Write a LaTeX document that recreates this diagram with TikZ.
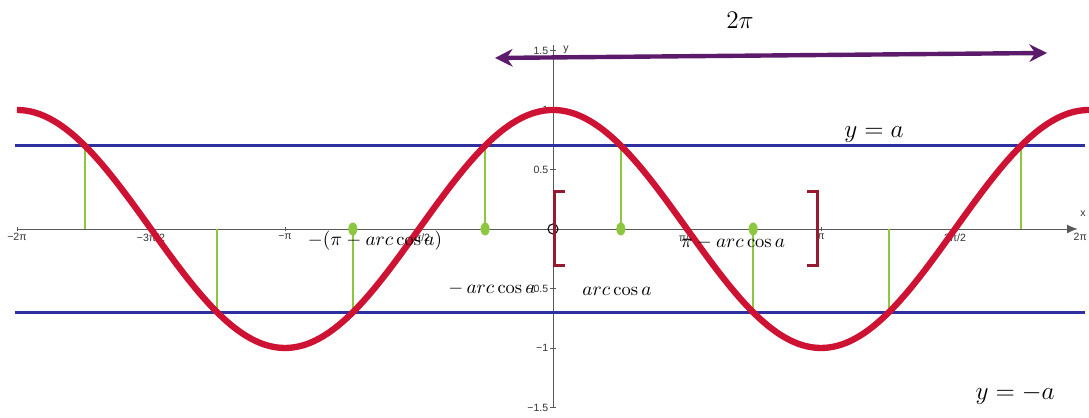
\documentclass[tikz,border=0pt]{standalone}
\usepackage{fontspec}
\newfontfamily\ticksf{Liberation Sans}
\usetikzlibrary{arrows.meta}
\definecolor{curvered}{RGB}{206,18,52}
\definecolor{lineblue}{RGB}{46,48,160}
\definecolor{stemgreen}{RGB}{141,198,63}
\definecolor{brackred}{RGB}{150,26,48}
\definecolor{arrowpurple}{RGB}{92,26,106}

\begin{document}
\begin{tikzpicture}[x=1.7062cm, y=2.38cm,
    axisline/.style={gray!70!black, line width=0.5pt},
    ticklab/.style={font=\ticksf\fontsize{6}{7}\selectfont, text=gray!40!black, inner sep=1pt},
    lab/.style={font=\fontsize{10.5}{12}\selectfont},
    biglab/.style={font=\fontsize{15}{18}\selectfont},
    greenstem/.style={stemgreen, line width=1.4pt},
    hline/.style={lineblue, line width=1.7pt},
    brack/.style={brackred, line width=1.7pt}]

    \useasboundingbox (-6.482,-1.588) rectangle (6.283,1.924);
    \pgfmathsetmacro\arcA{acos(0.7)*pi/180}

    % axes
    \coordinate (xl) at (-6.283, 0);
    \coordinate (xr) at (6.15, 0);
    \coordinate (yb) at (0, -1.5);
    \coordinate (yt) at (0, 1.55);
    \draw[axisline, -{Latex[length=6pt, width=5pt]}] (xl) -- (xr);
    \draw[axisline] (yb) -- (yt);
    \foreach \k/\t/\an in {-4/−2π/north, -3/−3π\slash 2/north, -2/−π/north, -1/−π\slash 2/north, 1/π\slash 2/north, 2/π/north, 3/3π\slash 2/north, 4/2π/north east}
        \draw[axisline] ({\k*pi/2}, 0.02) -- ({\k*pi/2}, -0.02) node[ticklab, anchor=\an] {\t};
    \foreach \v/\t in {-1.5/−1.5, -1/−1, -0.5/−0.5, 0.5/0.5, 1/1, 1.5/1.5}
        \draw[axisline] (0.03, \v) -- (-0.03, \v) node[ticklab, anchor=east] {\t};
    \node[ticklab] (xlab) at (6.213, 0.126) {x};
    \node[ticklab] (ylab) at (0.152, 1.504) {y};
    \draw[black, line width=0.6pt] (0, 0) circle (0.1cm);

    % y = a and y = -a
    \coordinate (al) at (-6.306, 0.7);
    \coordinate (ar) at (6.24, 0.7);
    \coordinate (bl) at (-6.306, -0.7);
    \coordinate (br) at (6.24, -0.7);
    \draw[hline] (al) -- (ar);
    \draw[hline] (bl) -- (br);

    % stems from the axis to the curve
    \foreach \x [count=\i] in {-2*pi+\arcA, -pi-\arcA, -pi+\arcA, -\arcA, \arcA, pi-\arcA, pi+\arcA, 2*pi-\arcA} {
        \pgfmathsetmacro\cy{cos(deg(\x))}
        \coordinate (s\i) at ({\x}, 0);
        \coordinate (t\i) at ({\x}, \cy);
        \draw[greenstem] (s\i) -- (t\i);
    }

    \draw[curvered, line width=3.6pt, domain=-6.283:6.283, samples=200, smooth] plot (\x, {cos(deg(\x))});

    \foreach \i in {3,...,6}
        \fill[stemgreen] (s\i) ellipse [x radius=0.09cm, y radius=0.13cm];

    % interval [0, pi]
    \draw[brack] (0.141, 0.311) -- (0.023, 0.311) -- (0.023, -0.303) -- (0.141, -0.303);
    \draw[brack] (2.977, 0.311) -- (3.106, 0.311) -- (3.106, -0.303) -- (2.977, -0.303);

    % period arrow
    \coordinate (pl) at (-0.68, 1.437);
    \coordinate (pr) at (5.791, 1.479);
    \draw[arrowpurple, line width=2.5pt, {Stealth[length=10pt, width=10pt]}-{Stealth[length=10pt, width=10pt]}] (pl) -- (pr);
    \node[biglab] (twopi) at (2.192, 1.756) {$2\pi$};

    \node[biglab] (ya) at (3.763, 0.79) {$y = a$};
    \node[biglab] (yma) at (5.416, -1.395) {$y = -a$};
    \node[lab] (negpiarc) at (-2.087, -0.101) {$-(\pi - arc\cos a)$};
    \node[lab] (piarc) at (2.11, -0.118) {$\pi - arc\cos a$};
    \node[lab] (negarc) at (-0.715, -0.504) {$-\,arc\cos a$};
    \node[lab] (arc) at (0.75, -0.529) {$arc\cos a$};
\end{tikzpicture}
\end{document}
